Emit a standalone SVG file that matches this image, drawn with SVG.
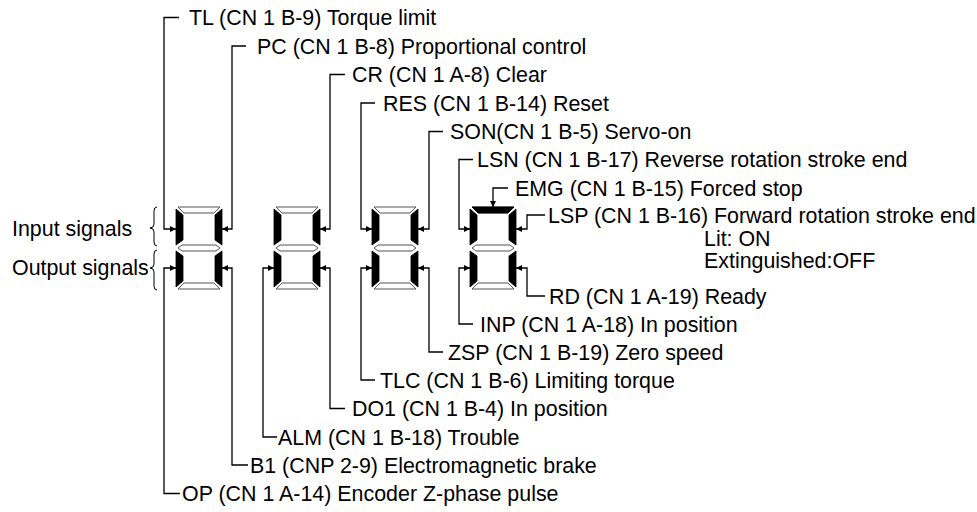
<svg xmlns="http://www.w3.org/2000/svg" xmlns:xlink="http://www.w3.org/1999/xlink" width="977" height="512" viewBox="0 0 977 512">
<style>
text{font-family:"Liberation Sans",Arial,sans-serif;font-size:21.4px;fill:#000}
.on{fill:#000;stroke:#000;stroke-width:0.8}
.off{fill:#fff;stroke:#555;stroke-width:1}
.c{fill:none;stroke:#000;stroke-width:1.3}
.br{fill:none;stroke:#000;stroke-width:1}
</style>
<defs>
<marker id="ah" markerUnits="userSpaceOnUse" markerWidth="7" markerHeight="7" refX="6" refY="3" orient="auto">
<path d="M0,0 L6,3 L0,6 z" fill="#000"/>
</marker>
<g id="digit">
<polygon class="off" points="2,0 44,0 38,6 8,6"/>
<polygon class="on" points="0,2 7,8 7,33 0,38"/>
<polygon class="on" points="46,2 39,8 39,33 46,38"/>
<polygon class="off" points="2,41 6,38 40,38 44,41 40,44 6,44"/>
<polygon class="on" points="0,44 7,49 7,74 0,80"/>
<polygon class="on" points="46,44 39,49 39,74 46,80"/>
<polygon class="off" points="8,76 38,76 44,82 2,82"/>
</g>
</defs>
<rect width="977" height="512" fill="#fff"/>

<g id="side-labels">
<text x="12" y="236">Input signals</text>
<text x="12" y="275">Output signals</text>
<path class="br" d="M157,207 Q154,207 154,211 L154,224 Q154,228 150,228 Q154,228 154,232 L154,242 Q154,246 157,246"/>
<path class="br" d="M157,250 Q154,250 154,254 L154,264 Q154,268 150,268 Q154,268 154,272 L154,286 Q154,290 157,290"/>
</g>

<g id="digit1"><use xlink:href="#digit" href="#digit" x="176" y="207"/></g>
<g id="digit2"><use xlink:href="#digit" href="#digit" x="274" y="207"/></g>
<g id="digit3"><use xlink:href="#digit" href="#digit" x="372" y="207"/></g>
<g id="digit4"><use xlink:href="#digit" href="#digit" x="470" y="207"/>
<polygon class="on" points="472,207 514,207 508,213 478,213"/></g>

<g id="connectors">
<path class="c" marker-end="url(#ah)" d="M179,17.5 H164 V229 H176"/>
<path class="c" marker-end="url(#ah)" d="M246,46 H232 V229 H222"/>
<path class="c" marker-end="url(#ah)" d="M345,74.5 H330 V229 H320"/>
<path class="c" marker-end="url(#ah)" d="M375,103 H361 V229 H372"/>
<path class="c" marker-end="url(#ah)" d="M443,131.5 H429 V229 H418"/>
<path class="c" marker-end="url(#ah)" d="M473,159.5 H459 V229 H470"/>
<path class="c" marker-end="url(#ah)" d="M508,188 H493 V207"/>
<path class="c" marker-end="url(#ah)" d="M545,215 H527 V229 H516"/>
<path class="c" marker-end="url(#ah)" d="M180,493.5 H164 V268 H176"/>
<path class="c" marker-end="url(#ah)" d="M248,465 H232 V268 H222"/>
<path class="c" marker-end="url(#ah)" d="M277,437 H263 V268 H274"/>
<path class="c" marker-end="url(#ah)" d="M345,408.5 H330 V268 H320"/>
<path class="c" marker-end="url(#ah)" d="M375,380 H361 V268 H372"/>
<path class="c" marker-end="url(#ah)" d="M443,352 H429 V268 H418"/>
<path class="c" marker-end="url(#ah)" d="M473,324 H459 V268 H470"/>
<path class="c" marker-end="url(#ah)" d="M545,296 H527 V268 H516"/>
</g>

<g id="input-labels">
<g id="lbl-tl"><text x="189" y="25">TL (CN 1 B-9) Torque limit</text></g>
<g id="lbl-pc"><text x="257" y="53.5">PC (CN 1 B-8) Proportional control</text></g>
<g id="lbl-cr"><text x="352" y="82">CR (CN 1 A-8) Clear</text></g>
<g id="lbl-res"><text x="383" y="110.5">RES (CN 1 B-14) Reset</text></g>
<g id="lbl-son"><text x="450" y="139">SON(CN 1 B-5) Servo-on</text></g>
<g id="lbl-lsn"><text x="477" y="167">LSN (CN 1 B-17) Reverse rotation stroke end</text></g>
<g id="lbl-emg"><text x="515" y="195.5">EMG (CN 1 B-15) Forced stop</text></g>
<g id="lbl-lsp"><text x="548" y="223">LSP (CN 1 B-16) Forward rotation stroke end</text></g>
</g>
<g id="legend">
<text x="704" y="246">Lit: ON</text>
<text x="704" y="268">Extinguished:OFF</text>
</g>
<g id="output-labels">
<g id="lbl-rd"><text x="549" y="303.5">RD (CN 1 A-19) Ready</text></g>
<g id="lbl-inp"><text x="480" y="331.5">INP (CN 1 A-18) In position</text></g>
<g id="lbl-zsp"><text x="448" y="359.5">ZSP (CN 1 B-19) Zero speed</text></g>
<g id="lbl-tlc"><text x="380" y="387.5">TLC (CN 1 B-6) Limiting torque</text></g>
<g id="lbl-do1"><text x="352" y="416">DO1 (CN 1 B-4) In position</text></g>
<g id="lbl-alm"><text x="278" y="444.5">ALM (CN 1 B-18) Trouble</text></g>
<g id="lbl-b1"><text x="250" y="472.5">B1 (CNP 2-9) Electromagnetic brake</text></g>
<g id="lbl-op"><text x="182" y="501">OP (CN 1 A-14) Encoder Z-phase pulse</text></g>
</g>
</svg>
